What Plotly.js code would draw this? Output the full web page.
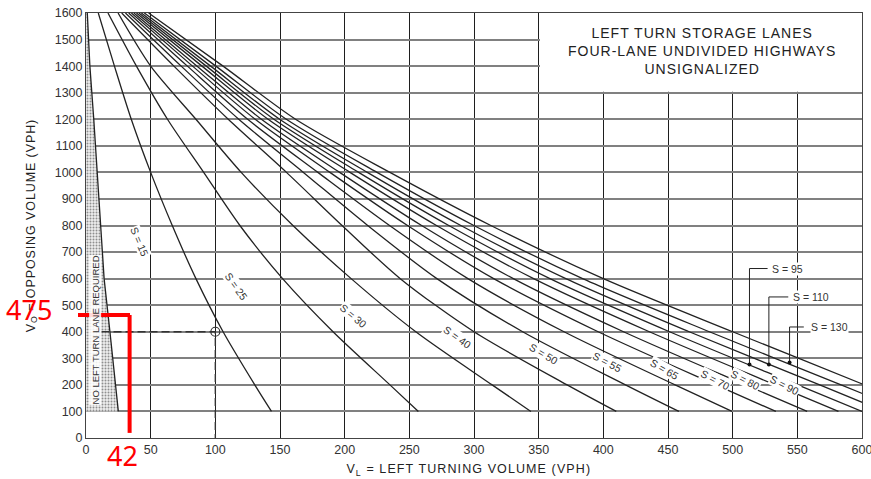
<!DOCTYPE html>
<html><head><meta charset="utf-8">
<script src="https://cdn.plot.ly/plotly-3.0.1.min.js"></script>
<style>html,body{margin:0;padding:0;background:#fff}#chart{width:871px;height:479px}</style>
</head><body><div id="chart"></div>
<script>
// Opposing volume levels (VPH) at which each curve was read
const yLevels = [1600, 1400, 1200, 1000, 800, 600, 400, 200, 100];
// Left-turning volume (VPH) of each storage curve at those levels
const s15 = [9.5, 22, 35, 50, 66.7, 85, 106, 130.5, 143.4];
const s25 = [17, 39, 63, 91, 119, 152, 191, 235, 257];
const s30 = [24.8, 50, 85, 120, 160, 205, 255, 314, 344];
const s40 = [27.6, 68, 110, 155, 198, 243, 300, 372, 410];
const s50 = [30.5, 73.6, 118.1, 168.1, 217.8, 271.3, 337.6, 417.1, 458.4];
const s55 = [33.0, 78.4, 125.0, 179.3, 234.7, 295.3, 369.6, 455.5, 499.5];
const s65 = [35.1, 82.4, 130.8, 188.6, 248.6, 315.2, 396, 487, 533.4];
const s70 = [37.0, 85.9, 135.6, 196.1, 259.5, 330.4, 415.6, 509.8, 557.6];
const s80 = [39.0, 89.7, 140.8, 204.1, 271, 346.1, 435.6, 532.8, 581.8];
const s90 = [40.9, 93, 145.3, 210.8, 280.5, 358.7, 451.2, 550.3, 600];
const s95 = [42.8, 96.4, 149.7, 217.5, 289.8, 371, 466.4, 567.3, 617.4];
const s110 = [45.1, 100.4, 154.9, 225, 299.9, 384, 482, 583.8, 634.3];
const s130 = [48.4, 106, 162, 235, 313, 400, 500, 602, 652];
const curveNames = ['S = 15','S = 25','S = 30','S = 40','S = 50','S = 55','S = 65','S = 70','S = 80','S = 90','S = 95','S = 110','S = 130'];
const curveSeries = [s15, s25, s30, s40, s50, s55, s65, s70, s80, s90, s95, s110, s130];

// "No left turn lane required" boundary
const boundaryY = [1600, 1400, 1200, 1000, 800, 700, 600, 400, 200, 100];
const boundaryX = [1, 3, 6, 8.5, 11, 12.5, 14, 18.5, 22.5, 25];

// Worked example (VL = 100, VO = 400)
const exampleX = [12, 100, 100];
const exampleY = [400, 400, 0];

// Leader lines for S = 95 / 110 / 130
const lead95X = [527, 513, 513];  const lead95Y = [638, 638, 277];
const lead110X = [543, 528, 528]; const lead110Y = [531, 531, 277];
const lead130X = [555, 544, 544]; const lead130Y = [418, 418, 284];

const xTicks = [0,50,100,150,200,250,300,350,400,450,500,550,600];

const traces = [];
traces.push({
  x: [0].concat(boundaryX, [0]), y: [1600].concat(boundaryY, [100]),
  type: 'scatter', mode: 'lines', fill: 'toself', fillcolor: '#e8e8e8',
  fillpattern: {shape: '.', fgcolor: '#8f8f8f', bgcolor: '#efefef', size: 3, solidity: 0.35},
  line: {width: 0}, hoverinfo: 'skip'
});
traces.push({x: boundaryX, y: boundaryY, type: 'scatter', mode: 'lines',
  line: {color: '#222', width: 1.3}, hoverinfo: 'skip'});
curveSeries.forEach((xs, i) => {
  traces.push({x: xs, y: yLevels, type: 'scatter', mode: 'lines', name: curveNames[i],
    line: {color: '#222', width: 1.3, shape: 'spline', smoothing: 0.8}, cliponaxis: true});
});
traces.push({x: exampleX, y: exampleY, type: 'scatter', mode: 'lines',
  line: {color: '#333', width: 1.4, dash: '8px,4px'}, hoverinfo: 'skip'});
traces.push({x: [exampleX[1]], y: [exampleY[1]], type: 'scatter', mode: 'markers',
  marker: {symbol: 'circle-open', size: 9, color: '#333', line: {width: 1.2}}});
[[lead95X, lead95Y], [lead110X, lead110Y], [lead130X, lead130Y]].forEach(([lx, ly]) => {
  traces.push({x: lx, y: ly, type: 'scatter', mode: 'lines', line: {color: '#222', width: 1}, hoverinfo: 'skip'});
  traces.push({x: [lx[2]], y: [ly[2]], type: 'scatter', mode: 'markers', marker: {color: '#111', size: 4}});
});

const lblFont = {family: 'Liberation Sans, Arial, sans-serif', size: 10.5, color: '#333'};
function curveLabel(text, x, y, ang) {
  return {text: text, x: x, y: y, xref: 'x', yref: 'y', showarrow: false, textangle: ang,
    font: lblFont, bgcolor: '#fff', borderpad: 0};
}
function leaderLabel(text, x, y) {
  return {text: text, x: x, y: y, xref: 'x', yref: 'y', showarrow: false, xanchor: 'left',
    font: lblFont, bgcolor: '#fff', borderpad: 0};
}
function spaced(t, px) { return '<span style="letter-spacing:' + px + 'px">' + t + '</span>'; }

const annotations = [
  curveLabel(curveNames[0], 41, 740, 67),
  curveLabel(curveNames[1], 116, 572, 55),
  curveLabel(curveNames[2], 207, 460, 40),
  curveLabel(curveNames[3], 287, 380, 35),
  curveLabel(curveNames[4], 354, 315, 31),
  curveLabel(curveNames[5], 403, 287, 28),
  curveLabel(curveNames[6], 447, 259, 30),
  curveLabel(curveNames[7], 487, 220, 28),
  curveLabel(curveNames[8], 510, 220, 28),
  curveLabel(curveNames[9], 540, 199, 27),
  leaderLabel(curveNames[10], 529.5, 638),
  leaderLabel(curveNames[11], 546, 531),
  leaderLabel(curveNames[12], 560, 418),
  {text: spaced('LEFT TURN STORAGE LANES', 1) + '<br>' + spaced('FOUR-LANE UNDIVIDED HIGHWAYS', 1) + '<br>' + spaced('UNSIGNALIZED', 1),
   x: 476, y: 1456, xref: 'x', yref: 'y', showarrow: false, align: 'center',
   xanchor: 'center', yanchor: 'middle',
   font: {family: 'Liberation Sans, Arial, sans-serif', size: 14, color: '#222'}},
  {text: 'NO LEFT TURN LANE REQUIRED', x: 7, y: 405, xref: 'x', yref: 'y', showarrow: false,
   textangle: -90, font: {family: 'Liberation Sans, Arial, sans-serif', size: 9.5, color: '#333'},
   bgcolor: 'rgba(255,255,255,0.85)', borderpad: 0},
  {text: '475', x: -0.0735, y: 0.3035, xref: 'paper', yref: 'paper', showarrow: false,
   xanchor: 'center', yanchor: 'middle',
   font: {family: 'Noto Sans, sans-serif', size: 27, color: '#ff0000'}},
  {text: '42', x: 0.047, y: -0.0412, xref: 'paper', yref: 'paper', showarrow: false,
   xanchor: 'center', yanchor: 'middle',
   font: {family: 'Noto Sans, sans-serif', size: 27, color: '#ff0000'}}
];

const shapes = [
  {type: 'rect', xref: 'x', yref: 'y', x0: 351, x1: 600, y0: 1304, y1: 1600,
   fillcolor: '#fff', line: {width: 0}, layer: 'between'},
  {type: 'line', xref: 'paper', yref: 'paper', x0: -0.0103, x1: 0.0567, y0: 0.2894, y1: 0.2894,
   line: {color: '#ff0000', width: 4}},
  {type: 'line', xref: 'paper', yref: 'paper', x0: 0.0562, x1: 0.0562, y0: 0.2894, y1: 0.012,
   line: {color: '#ff0000', width: 4}}
];

const layout = {
  width: 871, height: 479,
  margin: {l: 86, r: 9, t: 13, b: 41},
  paper_bgcolor: '#fff', plot_bgcolor: '#fff',
  showlegend: false,
  font: {family: 'Liberation Sans, Arial, sans-serif', color: '#333'},
  xaxis: {range: [0, 600], tickvals: xTicks, showgrid: true, gridcolor: '#1e1e1e', gridwidth: 1,
    zeroline: false, showline: true, linecolor: '#444', linewidth: 1, mirror: true, ticks: '',
    ticklabeloverflow: 'allow',
    tickfont: {size: 12.5, color: '#333'},
    title: {text: spaced('V<sub>L</sub> = LEFT TURNING VOLUME (VPH)', 1.1) + '&nbsp;&nbsp;&nbsp;', font: {size: 12.5, color: '#222'}, standoff: 8}},
  yaxis: {range: [0, 1600], dtick: 100, showgrid: true, gridcolor: '#808080', gridwidth: 2,
    zeroline: false, showline: true, linecolor: '#444', linewidth: 1, mirror: true, ticks: '',
    tickfont: {size: 12.5, color: '#333'},
    title: {text: spaced('V<sub>O</sub> = OPPOSING VOLUME (VPH)', 0.9), font: {size: 12.5, color: '#222'}, standoff: 16}},
  annotations: annotations,
  shapes: shapes
};

Plotly.newPlot('chart', traces, layout, {displayModeBar: false, staticPlot: true});
</script>
</body></html>
